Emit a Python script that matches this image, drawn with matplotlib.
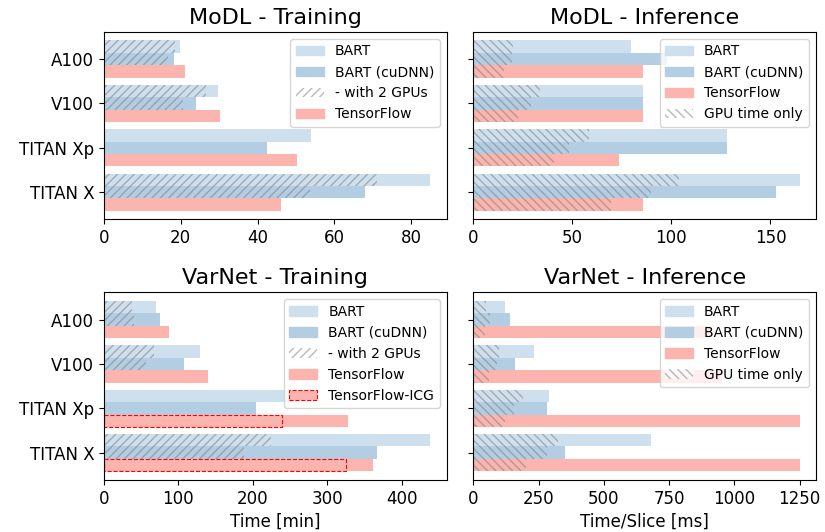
import numpy as np
import matplotlib
matplotlib.use("Agg")
import matplotlib.pyplot as plt
from matplotlib.patches import Patch

gpus = ["A100", "V100", "TITAN Xp", "TITAN X"]

# MoDL training [min]
modl_train_bart = [19.8, 29.6, 53.9, 85.0]
modl_train_bart_2gpu = [18.5, 26.7, np.nan, 71.0]
modl_train_cudnn = [18.2, 23.9, 42.6, 68.1]
modl_train_cudnn_2gpu = [16.7, 20.5, np.nan, 53.6]
modl_train_tf = [21.1, 30.2, 50.2, 46.1]

# MoDL inference [ms]
modl_inf_bart = [79.7, 85.7, 128.3, 164.7]
modl_inf_bart_gpu = [20.1, 33.9, 58.5, 104.0]
modl_inf_cudnn = [97.6, 85.7, 128.3, 152.6]
modl_inf_cudnn_gpu = [19.6, 29.2, 48.5, 89.5]
modl_inf_tf = [85.7, 85.7, 73.5, 85.7]
modl_inf_tf_gpu = [15.4, 22.6, 40.9, 69.6]

# VarNet training [min]
var_train_bart = [69.3, 128.7, 259.8, 438.1]
var_train_bart_2gpu = [37.1, 66.6, np.nan, 224.0]
var_train_cudnn = [75.1, 107.3, 204.8, 366.1]
var_train_cudnn_2gpu = [39.8, 55.9, np.nan, 187.7]
var_train_tf = [87.2, 139.5, 327.2, 360.7]
var_train_tf_icg = [np.nan, np.nan, 238.7, 325.5]

# VarNet inference [ms]
var_inf_bart = [122, 233, 291, 681]
var_inf_bart_gpu = [49.6, 100, 191, 323]
var_inf_cudnn = [142, 161.5, 284, 352]
var_inf_cudnn_gpu = [63.4, 89, 156.5, 282.5]
var_inf_tf = [909, 951, 1250, 1250]
var_inf_tf_gpu = [43, 62, 123, 203.5]

c_bart = "#cedfed"
c_cudnn = "#b3cde3"
c_tf = "#fbb4ae"
h = 0.28

plt.rcParams["hatch.linewidth"] = 1.0

fig, axes = plt.subplots(2, 2, figsize=(8.25, 5.32), dpi=100, sharey=True)
fig.subplots_adjust(left=0.126, right=0.989, top=0.94, bottom=0.098,
                    wspace=0.078, hspace=0.39)
y = np.arange(len(gpus))


def hatched(ax, pos, vals, pattern):
    ax.barh(pos, vals, height=h, color="none", edgecolor="gray",
            hatch=pattern, lw=0, alpha=0.55)


def draw(ax, bart, cudnn, tf, title, bart_h=None, cudnn_h=None, tf_h=None,
         pattern="////", icg=None, inference=False):
    ax.barh(y - h, bart, height=h, color=c_bart)
    ax.barh(y, cudnn, height=h, color=c_cudnn)
    ax.barh(y + h, tf, height=h, color=c_tf)
    if icg is not None:
        ax.barh(y + h, icg, height=h, color=c_tf, edgecolor="red",
                ls="--", lw=0.8)
    if bart_h is not None:
        hatched(ax, y - h, bart_h, pattern)
    if cudnn_h is not None:
        hatched(ax, y, cudnn_h, pattern)
    if tf_h is not None:
        hatched(ax, y + h, tf_h, pattern)
    ax.set_title(title, fontsize=16)
    ax.tick_params(labelsize=12)

    handles = [Patch(color=c_bart, label="BART"),
               Patch(color=c_cudnn, label="BART (cuDNN)")]
    if inference:
        handles.append(Patch(color=c_tf, label="TensorFlow"))
        handles.append(Patch(facecolor="white", edgecolor="gray", lw=0,
                             hatch=pattern, alpha=0.55, label="GPU time only"))
    else:
        handles.append(Patch(facecolor="white", edgecolor="gray", lw=0,
                             hatch=pattern, alpha=0.55, label="- with 2 GPUs"))
        handles.append(Patch(color=c_tf, label="TensorFlow"))
        if icg is not None:
            handles.append(Patch(facecolor=c_tf, edgecolor="red", ls="--",
                                 lw=0.8, label="TensorFlow-ICG"))
    ax.legend(handles=handles, loc="upper right", fontsize=10)


draw(axes[0, 0], modl_train_bart, modl_train_cudnn, modl_train_tf,
     "MoDL - Training", modl_train_bart_2gpu, modl_train_cudnn_2gpu)
draw(axes[0, 1], modl_inf_bart, modl_inf_cudnn, modl_inf_tf,
     "MoDL - Inference", modl_inf_bart_gpu, modl_inf_cudnn_gpu,
     modl_inf_tf_gpu, pattern="\\\\\\\\", inference=True)
draw(axes[1, 0], var_train_bart, var_train_cudnn, var_train_tf,
     "VarNet - Training", var_train_bart_2gpu, var_train_cudnn_2gpu,
     icg=var_train_tf_icg)
draw(axes[1, 1], var_inf_bart, var_inf_cudnn, var_inf_tf,
     "VarNet - Inference", var_inf_bart_gpu, var_inf_cudnn_gpu,
     var_inf_tf_gpu, pattern="\\\\\\\\", inference=True)

axes[0, 0].set_yticks(y)
axes[0, 0].set_yticklabels(gpus)
axes[0, 0].invert_yaxis()
axes[1, 0].set_xlabel("Time [min]", fontsize=12)
axes[1, 1].set_xlabel("Time/Slice [ms]", fontsize=12)

fig.savefig("out.png", dpi=100)
